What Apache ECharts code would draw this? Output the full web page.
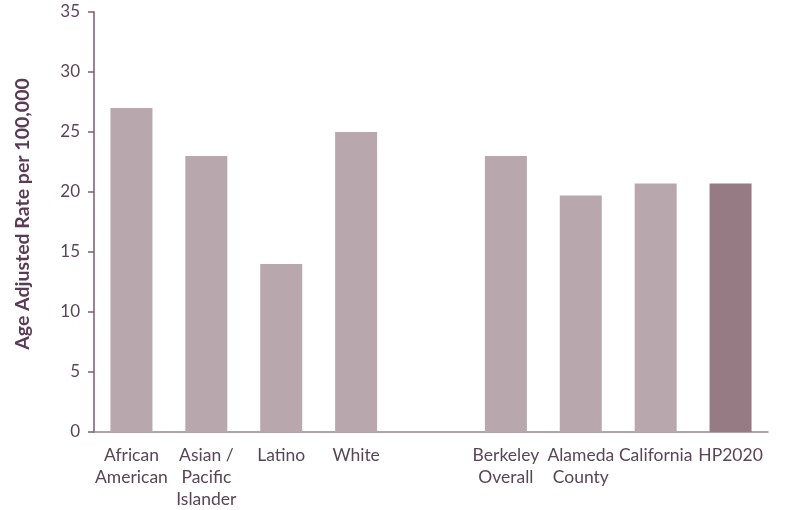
<!DOCTYPE html>
<html>
<head>
<meta charset="utf-8">
<script src="https://cdn.jsdelivr.net/npm/echarts@6/dist/echarts.min.js"></script>
<style>
html,body{margin:0;padding:0;background:#fff;}
#chart{width:786px;height:510px;}
</style>
</head>
<body>
<div id="chart"></div>
<script>
const categories = ["African\nAmerican", "Asian /\nPacific\nIslander", "Latino", "White", "", "Berkeley\nOverall", "Alameda\nCounty", "California", "HP2020"];
const values = [27, 23, 14, 25, null, 23, 19.7, 20.7, 20.7];
const yTicks = { min: 0, max: 35, interval: 5 };
const yTitle = "Age Adjusted Rate per 100,000";
const highlightCategory = "HP2020";

const baseColor = "#b8a8ad";
const highlightColor = "#967b85";
const axisColor = "#9a8393";
const textColor = "#5a4554";

const chart = echarts.init(document.getElementById('chart'), null, {renderer: 'canvas'});
chart.setOption({
  animation: false,
  grid: { left: 94, right: 18, top: 12, bottom: 77, containLabel: false },
  xAxis: {
    type: 'category',
    data: categories,
    axisLine: { lineStyle: { color: axisColor, width: 1.5 } },
    axisTick: { show: false },
    axisLabel: { color: textColor, fontFamily: 'Lato', fontSize: 17.5, lineHeight: 22, margin: 12, interval: 0 }
  },
  yAxis: {
    type: 'value',
    min: yTicks.min, max: yTicks.max, interval: yTicks.interval,
    name: yTitle,
    nameLocation: 'middle',
    nameGap: 61,
    nameTextStyle: { color: '#5b3a55', fontFamily: 'Lato', fontWeight: 'bold', fontSize: 19.5, padding: [0, 0, 0, 16] },
    axisLine: { show: true, lineStyle: { color: axisColor, width: 2 } },
    axisTick: { show: true, length: 6, lineStyle: { color: '#7a5f72', width: 1.5 } },
    splitLine: { show: false },
    axisLabel: { color: textColor, fontFamily: 'Lato', fontSize: 17, margin: 14 }
  },
  series: [{
    type: 'bar',
    barWidth: 42,
    data: values.map((v, i) => ({
      value: v,
      itemStyle: { color: categories[i] === highlightCategory ? highlightColor : baseColor }
    }))
  }]
});
</script>
</body>
</html>
